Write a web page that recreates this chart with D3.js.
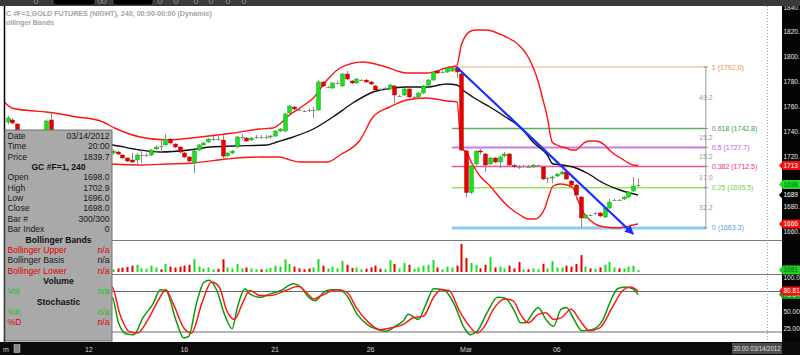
<!DOCTYPE html>
<html><head><meta charset="utf-8">
<script src="https://cdn.jsdelivr.net/npm/d3@7"></script>
<style>body{margin:0;background:#fff}svg{display:block}text{font-family:Arial,"Liberation Sans",sans-serif}</style>
</head><body><svg id="c" width="800" height="355"></svg>
<script>
// ---------------- DATA ----------------
const opens=[1748,1749.6,1746.4,1737.6,1735,1732,1734.5,1733,1735,1749.6,1738,1732,1730,1731.5,1730,1728,1729.5,1728,1726,1727.5,1726,1724,
1723.2,1724.0,1721.6,1719.2,1717.6,1717.6,1721.6,1721.6,1721.6,1726.4,1728.8,1729.6,1734.4,1730.4,1728.0,1723.2,1720.0,1715.2,1725.6,1729.6,1732.0,1734.4,1734.6,1733.6,1720.8,1723.2,1728.0,1736.0,1735.2,1733.6,1736,1736.2,1736,1736,1736.8,1740.8,1740.8,1755.2,1760.0,1757.6,1756.8,1757.6,1757.6,1757.6,1780,1776,1775.2,1779.2,1776.8,1786.4,1780.8,1779.2,1781.6,1781.6,1780,1776.8,1774.4,1775,1774.4,1776.8,1768.8,1769.6,1774.4,1768,1768.0,1771.2,1777.6,1781.6,1788.8,1788,1788.0,1788.8,1791.2,1786.4,1724.8,1691.6,1714.4,1724.8,1722.4,1714.4,1719.2,1716.0,1720.8,1722.4,1713.2,1712.4,1712.2,1712.4,1712.0,1713,1712.0,1703.2,1703.2,1704.8,1706.4,1708.0,1700.8,1697.6,1688.0,1671.2,1673.6,1675,1675.2,1672.0,1679.2,1685.6,1685.6,1686.4,1688.0,1692.8,1698.0];
const highs=[1752.8,1751,1747.2,1740,1737,1736,1738,1736,1750,1755.2,1740,1735,1733,1734,1732,1731,1732,1730,1729,1730,1728,1726,
1726,1725,1722.4,1719.6,1723.2,1723.2,1725.6,1723,1726.4,1729,1733.6,1738.4,1735,1731,1728.8,1724,1720.8,1725.6,1730.4,1732,1735.2,1736.8,1736.8,1737.6,1724,1725.6,1736.8,1738.4,1736,1736,1737.6,1737.6,1737.6,1737.6,1741.6,1743.2,1755.2,1761.6,1760.8,1758.4,1757.6,1759,1760,1781.6,1780.8,1777,1780,1781,1787.2,1788.8,1781.6,1783.2,1782.4,1782,1780.8,1777.6,1775.2,1776,1778.4,1777.6,1769.6,1775.2,1775.2,1769,1772,1777.6,1782.4,1788.8,1789.6,1789,1791.6,1792.0,1792.0,1787.2,1725.6,1713.6,1725.6,1726.4,1723.2,1720,1720,1721,1724,1723.2,1714.4,1713.6,1713.6,1713.6,1714.4,1714,1712.8,1704,1705,1707.2,1709,1708.8,1701.6,1698.4,1688.8,1674.4,1674.4,1676,1676,1680,1686.4,1687,1686.4,1688.8,1692.8,1704.0,1702.9];
const lows=[1746,1746.4,1736,1733,1730,1730,1732,1729,1734,1736,1730,1728,1727,1729,1726,1725,1727,1724,1723,1725,1722,1721,
1722,1721.6,1718.4,1716,1715.2,1713.6,1715.2,1720,1720.8,1725.6,1724,1729,1730,1727,1723,1719,1716,1707.2,1724.8,1729,1731.2,1732.8,1733,1719.2,1720,1722.4,1727.2,1733.6,1732,1732.8,1734.4,1734.4,1734.4,1734.4,1736,1740,1740,1754.4,1757.6,1756.8,1756,1756,1751.2,1756.8,1776,1775,1774.4,1778,1776,1781.6,1778.4,1778.4,1780.8,1779.6,1777.6,1772.8,1773,1774,1773.6,1763.2,1768,1768.8,1767.2,1767,1767.2,1770.4,1776.8,1780.8,1786.4,1787,1787.2,1788,1783.2,1724.8,1688,1690.4,1713.6,1722,1708,1713.6,1715.2,1711,1720,1712.8,1711.2,1710.4,1711,1711,1711.2,1712,1701.6,1699.2,1699,1704,1705.6,1701.6,1696.8,1686,1663.3,1670.4,1672.8,1674,1672,1671.2,1678.4,1684.8,1684.8,1685.6,1687.2,1692,1696.0];
const closes=[1751.2,1747.2,1737.6,1735,1732,1734.5,1733,1735,1748.8,1738,1732,1730,1731.5,1730,1728,1729.5,1728,1726,1727.5,1726,1724,1723.2,
1724.8,1722.4,1719.2,1716.8,1716.0,1721.6,1721.8,1721.8,1725.6,1728.0,1728.6,1734.4,1731.2,1728.0,1724.0,1720.0,1716.8,1724.8,1729.6,1731.2,1734.4,1734.6,1734.4,1720.8,1723.2,1724.8,1736.0,1736.2,1732.8,1735.2,1736.2,1736,1736.2,1736.8,1740.8,1742.4,1754.4,1760.8,1758.4,1757.4,1756.6,1757.4,1757.8,1780.0,1776.8,1776.2,1779.2,1779.4,1786.4,1782.4,1779.2,1782.4,1781.8,1780.0,1778.4,1773.6,1774.2,1775.2,1777.6,1769.6,1768.8,1774.4,1768.0,1768.2,1771.2,1776.8,1781.6,1788.0,1787.2,1788.2,1791.2,1791.2,1788.0,1725.6,1691.6,1712.8,1724.8,1724.0,1713.6,1719.2,1716.0,1720.0,1722.4,1713.6,1712.8,1712.2,1712.4,1712.2,1713.6,1713.2,1702.4,1703.4,1704.0,1706.4,1708.0,1702.4,1697.6,1689.6,1671.2,1673.6,1673.4,1675.2,1672.8,1679.2,1684.0,1685.8,1685.4,1688.0,1692.0,1696.8,1698.0];
const volumes=[2500,2200,3000,2400,2000,2600,2300,2100,4200,3800,2600,2400,2000,2300,2100,2500,2200,2000,2400,2100,2300,2000,
1500,2000,2400,2800,3500,4000,2000,1800,3500,2500,1500,4500,3000,2500,3000,3500,4000,7200,3000,2000,2500,1500,1800,7000,2500,2000,4500,2000,2500,2000,1500,1500,1600,2200,3500,3000,7000,4500,3000,2000,1500,2000,2500,7200,3500,2000,3000,2000,6000,4000,2200,2500,1500,1800,2500,3500,1800,1500,6500,4500,2000,5000,4000,1800,2500,3500,4000,6600,2500,1500,3000,2500,3500,15500,7700,5000,4000,2000,4000,8200,2500,3000,2000,3500,2000,5500,1500,1500,2000,1500,4500,2000,6000,2500,2500,3500,3000,4500,9300,3000,2000,1800,2500,4000,5500,2500,2000,2000,3000,3500,1081];
// Bollinger bands as [bar index, price]
const bbUpper=[[-1,1765],[1,1759],[5,1757],[8,1756],[11,1754.4],[14.5,1752],[19.3,1749],[22.5,1743],[27.7,1736],[33.4,1733.6],[40.3,1736],[47.2,1739.2],[52.8,1742.4],[55.6,1743.2],[57,1746.4],[58.5,1752],[61.2,1759.2],[64,1767.2],[66.9,1781.6],[69.6,1791.2],[74.4,1796],[78.6,1792.8],[83.6,1787.2],[87.8,1787.2],[92.6,1792],[94,1792.8],[95,1809.6],[96,1817.6],[97,1820.8],[98,1821.6],[100,1821.6],[101,1821.2],[102,1820],[103,1818.4],[104,1816.8],[105,1814.8],[106,1812.8],[107,1809.6],[108,1805.6],[109,1800],[110,1792],[111,1781.6],[112,1767.2],[113,1752],[114,1732],[115,1729.6],[116,1728],[117,1727.2],[118,1725.6],[119,1725.6],[120,1728.8],[121,1732],[122,1732.8],[123,1732.8],[124,1732],[125,1729.6],[126,1725.6],[127,1722.4],[128,1720],[129,1717.6],[130,1715.2],[131,1713.6],[132,1713.2]];
const bbBasis=[[-1,1736],[10,1733],[22,1729.6],[27.7,1725.6],[31.9,1724],[38,1725.6],[42.4,1728],[47.2,1728.8],[54.3,1729.6],[56.4,1732],[59.8,1736],[64,1742.4],[68.1,1752],[72.3,1763.2],[76.5,1772],[80.7,1775.2],[83.6,1776],[87.8,1776],[92,1778.4],[94.1,1777.6],[95.3,1773.6],[97.4,1768],[101,1760],[104.6,1751.2],[107.3,1744],[110,1732],[113,1721.6],[114.2,1714.4],[116.1,1713.6],[118.4,1712],[121.3,1707.2],[124.7,1699.2],[128.2,1693.6],[130.3,1691.2],[132,1689.6]];
const bbLower=[[-1,1715.2],[19.3,1715.2],[21.8,1714.4],[27.7,1713.6],[33.4,1714.4],[38.8,1715.2],[45.9,1718.4],[52.8,1720],[57,1720],[58.5,1718.4],[61.2,1716],[66.9,1716],[69.6,1721.6],[73.8,1733.6],[76.5,1752],[80,1760],[83.6,1765.6],[87.8,1767.2],[92,1764.8],[94.1,1764],[95,1727.2],[96,1724],[97.4,1713.6],[98.9,1704.8],[101,1696.8],[103.1,1687.2],[105.2,1679.2],[107.3,1673.6],[109,1670.4],[110.4,1670.4],[111.5,1672.8],[112.5,1679.2],[113.4,1689.6],[114.2,1696.8],[115.7,1698.4],[117.1,1697.6],[118.4,1695.2],[119.4,1685.6],[120.5,1676],[121.9,1669.6],[123.4,1665.6],[125.1,1664],[127.6,1663.2],[129.3,1664],[131,1665.6],[132,1666.4]];
// Stochastic %K and %D, read as [bar index, value]
const stochK=[[20,75],[21.9,71.4],[23.2,33.6],[24.9,17],[26.4,16],[28.3,41],[30.4,61.3],[32,82.5],[33.1,81.5],[35.3,36.1],[36.9,11],[37.9,13.4],[39.5,61.3],[41.1,94],[42.2,96.6],[43.8,81.5],[45.4,46.2],[47,25],[48.1,56.3],[49.7,84],[50.7,76.5],[52.9,71.4],[55,76.5],[57.2,81.5],[59.8,91.6],[61.4,86.6],[63,71.4],[64.4,66.4],[66.2,79],[67.8,82.5],[69.4,82.5],[71,74],[73.2,46.2],[75.3,31],[77.5,23.5],[79.1,21],[80.1,23.5],[81.2,28.6],[82.8,36.1],[83.9,46.2],[86,38.7],[87.6,61.3],[89.2,84],[91.3,82.5],[93.5,61.3],[95.6,26],[96.9,16],[98.3,21],[100.4,48.7],[102.6,71.4],[104.2,70],[106.3,48.7],[107.4,33.6],[108.4,33.6],[110,48.7],[111.1,56.3],[112.7,38.7],[114.3,28.6],[115.9,53.8],[117,56.3],[118.6,38.7],[120.2,22],[122.3,23.5],[124.5,36.1],[126.6,71.4],[127.7,84],[129.3,86.6],[130.9,84],[132,75.64]];
const stochD=[[20,92],[21.9,86.6],[23.5,46.2],[25.6,20],[27.2,18.5],[29.4,38.7],[31.5,66.4],[33.1,82.5],[34.7,61.3],[36.9,26],[38.5,18.5],[40.6,61.3],[42.7,94],[44.3,86.6],[45.9,51.3],[47.5,38.7],[49.1,61.3],[50.7,81.5],[52.9,74],[55,74],[58.2,81.5],[60.9,87.6],[62.5,79],[64.1,68.9],[65.7,74],[68.9,82.5],[71,79],[73.2,53.8],[75.3,36.1],[78,23.5],[80.1,26],[82.8,31],[84.9,41],[87.1,43.7],[89.2,71.4],[90.8,82.5],[92.4,81.5],[94.6,51.3],[96.7,28.6],[98.3,18.5],[99.9,28.6],[101.5,51.3],[104.2,68.9],[105.8,66.4],[107.4,46.2],[109,33.6],[111.1,46.2],[112.7,48.7],[114.3,38.7],[115.9,41],[118,53.8],[119.7,38.7],[121.8,22],[124,26],[126.6,56.3],[128.8,81.5],[130.4,86.6],[132,80.81]];
const xTickIdx=[17,37,56,76,96,115];
const xTickLabels=["12","16","21","26","Mar","06"];
const priceTicks=[1840,1820,1800,1780,1760,1740,1720,1680,1660];
const priceTickLabels=["1840.","1820.","1800.","1780.","1760.","1740.","1720.","1680.","1660."];
const stochTicks=[100,50,25];
const stochTickLabels=["100.0","50.00","25.00"];
const fibRatios=["1","0.618","0.5","0.382","0.25","0"];
const fibPrices=[1792.0,1742.8,1727.7,1712.5,1695.5,1663.3];
const fibDiffs=["49.2","15.2","15.2","17.0","32.2"];
const fibSpan=[93,146.2];
const trendLine=[[94,1792.0],[131,1658.4]];
const badgeValues={upper:1713.2,close:1698.0,basis:1689.6,lower:1666.4,vol:1081,d:80.81,k:75.64};
const badgeLabels={upper:"1713",close:"1698",basis:"1689",lower:"1666",vol:"1081",d:"80.81",k:"75.64"};
const infoRows=[["Date","03/14/2012"],["Time","20:00"],["Price","1839.7"],["#GC #F=1, 240"],["Open","1698.0"],["High","1702.9"],["Low","1696.0"],["Close","1698.0"],["Bar #","300/300"],["Bar Index","0"],["#Bollinger Bands"],["Bollinger Upper","n/a","r"],["Bollinger Basis","n/a","k"],["Bollinger Lower","n/a","r"],["#Volume"],["Vol","n/a","g"],["#Stochastic"],["%K","n/a","g"],["%D","n/a","r"]];

// ---------------- LAYOUT ----------------
const svg=d3.select("#c");
const L=5,R=782,T=6,MB=240,VB=274,SB=342;
const x=d3.scaleLinear().domain([0,132]).range([7.7,638.0]);
const yP=d3.scaleLinear().domain([1660,1840]).range([232,7]);
const yV=d3.scaleLinear().domain([0,16000]).range([272,243]);
const yS=d3.scaleLinear().domain([20,100]).range([332,278]);
const GREEN="#1edc1e",RED="#e80000";

svg.append("rect").attr("width",800).attr("height",355).attr("fill","#fff");
const defs=svg.append("defs");
function clip(id,y0,y1){defs.append("clipPath").attr("id",id).append("rect").attr("x",L).attr("y",y0).attr("width",R-L).attr("height",y1-y0);}
clip("cm",T,MB);clip("cv",MB,VB);clip("cs",VB,SB);
defs.append("marker").attr("id","arr").attr("viewBox","0 0 10 10").attr("refX",9).attr("refY",5)
 .attr("markerWidth",9).attr("markerHeight",9).attr("markerUnits","userSpaceOnUse").attr("orient","auto")
 .append("path").attr("d","M0,0L10,5L0,10z").attr("fill","#1530ff");

// ---- Fibonacci
const fibLine=["#f8a27c","#58b058","#cc78f0","#f2528c","#92ea62","#8ccaf2"];
const fibText=["#f08850","#3f9a3f","#b458e6","#e8346c","#6cd23c","#4f9fe6"];
const fibW=[1.2,1.5,2,1.5,1.5,3];
const gf=svg.append("g");
fibPrices.forEach((p,i)=>{
  gf.append("line").attr("x1",x(fibSpan[0])).attr("x2",x(fibSpan[1])).attr("y1",yP(p)).attr("y2",yP(p))
    .attr("stroke",fibLine[i]).attr("stroke-width",fibW[i]);
  gf.append("text").attr("x",x(fibSpan[1])+6).attr("y",yP(p)+2.5).attr("font-size",7).attr("fill",fibText[i])
    .text(`${fibRatios[i]} (${p.toFixed(1)})`);
  gf.append("line").attr("x1",x(fibSpan[1])-2).attr("x2",x(fibSpan[1])+2).attr("y1",yP(p)).attr("y2",yP(p)).attr("stroke","#888");
});
gf.append("line").attr("x1",x(fibSpan[1])).attr("x2",x(fibSpan[1])).attr("y1",yP(fibPrices[0])).attr("y2",yP(fibPrices[5]))
  .attr("stroke","#9a9a9a").attr("stroke-width",1);
fibDiffs.forEach((t,i)=>{
  gf.append("text").attr("x",x(fibSpan[1])).attr("y",(yP(fibPrices[i])+yP(fibPrices[i+1]))/2+2.5)
   .attr("text-anchor","middle").attr("font-size",7).attr("fill","#9a9a9a").text(t);
});

// ---- Bollinger bands
const gm=svg.append("g").attr("clip-path","url(#cm)");
const bl=d3.line().x(d=>x(d[0])).y(d=>yP(d[1])).curve(d3.curveMonotoneX);
gm.append("path").attr("d",bl(bbUpper)).attr("fill","none").attr("stroke","#ff1414").attr("stroke-width",1.4);
gm.append("path").attr("d",bl(bbLower)).attr("fill","none").attr("stroke","#ff1414").attr("stroke-width",1.4);
gm.append("path").attr("d",bl(bbBasis)).attr("fill","none").attr("stroke","#111").attr("stroke-width",1.4);

// ---- Candles
const idx=d3.range(closes.length);
idx.forEach(i=>{
  const cx=Math.round(x(i));
  const o=opens[i],c=closes[i];
  const doji=Math.abs(c-o)<0.3;
  gm.append("line").attr("x1",cx+0.5).attr("x2",cx+0.5).attr("y1",yP(highs[i])).attr("y2",yP(lows[i]))
    .attr("stroke","#8c8c8c").attr("stroke-width",1);
  if(doji){
    gm.append("rect").attr("x",cx-1.5).attr("y",Math.round(yP(c))).attr("width",4).attr("height",1).attr("fill","#8c8c8c");
  } else {
    const top=yP(Math.max(o,c)),bot=yP(Math.min(o,c));
    gm.append("rect").attr("x",cx-1.5).attr("y",top).attr("width",4).attr("height",Math.max(1,bot-top))
      .attr("fill",c>o?GREEN:RED).attr("stroke",c>o?"#10a010":"#b00000").attr("stroke-width",0.4);
  }
});

// ---- Trend line
gm.append("line").attr("x1",x(trendLine[0][0])).attr("y1",yP(trendLine[0][1])).attr("x2",x(trendLine[1][0])).attr("y2",yP(trendLine[1][1]))
  .attr("stroke","#1530ff").attr("stroke-width",2.2).attr("marker-end","url(#arr)");

// ---- Volume
const gv=svg.append("g").attr("clip-path","url(#cv)");
idx.forEach(i=>{
  const cx=Math.round(x(i));
  gv.append("rect").attr("x",cx-0.5).attr("y",yV(volumes[i])).attr("width",2).attr("height",yV(0)-yV(volumes[i]))
    .attr("fill",closes[i]>=opens[i]?GREEN:RED);
});

// ---- separators and stochastic reference lines
[[MB+0.5,"#7a7a7a"],[VB+0.5,"#7a7a7a"],[yS(80),"#6a6a6a"],[yS(20),"#6a6a6a"]].forEach(([y,c])=>{
  svg.append("line").attr("x1",L).attr("x2",R).attr("y1",y).attr("y2",y).attr("stroke",c).attr("stroke-width",1.2);
});

// ---- Stochastic
const gs=svg.append("g").attr("clip-path","url(#cs)");
const sl=d3.line().x(d=>x(d[0])).y(d=>yS(d[1])).curve(d3.curveMonotoneX);
gs.append("path").attr("d",sl(stochK)).attr("fill","none").attr("stroke","#0a9a0a").attr("stroke-width",1.5);
gs.append("path").attr("d",sl(stochD)).attr("fill","none").attr("stroke","#ff1a1a").attr("stroke-width",1.5);

// ---- dotted right line
svg.append("line").attr("x1",767.5).attr("x2",767.5).attr("y1",T).attr("y2",SB).attr("stroke","#9a9a9a").attr("stroke-dasharray","1,2");

// ---- right axis
svg.append("rect").attr("x",R).attr("y",0).attr("width",800-R).attr("height",355).attr("fill","#050505");
priceTicks.forEach((v,i)=>{
  svg.append("text").attr("x",783.5).attr("y",Math.max(yP(v)+2.3,9.5)).attr("font-size",6.5).attr("fill","#e6e6e6").text(priceTickLabels[i]);
});
stochTicks.forEach((v,i)=>{
  svg.append("text").attr("x",783.5).attr("y",yS(v)+2.3).attr("font-size",6.5).attr("fill","#e6e6e6").text(stochTickLabels[i]);
});
function badge(y,fill,tc,label){
  svg.append("path").attr("d",`M779,${y}L783,${y-4.5}L800,${y-4.5}L800,${y+4.5}L783,${y+4.5}Z`).attr("fill",fill);
  svg.append("text").attr("x",783.5).attr("y",y+2.3).attr("font-size",6.5).attr("fill",tc).text(label);
}
badge(yP(badgeValues.upper),"#f01010","#fff",badgeLabels.upper);
badge(yP(badgeValues.basis),"#000","#fff",badgeLabels.basis);
badge(yP(badgeValues.close),"#22dd22","#063",badgeLabels.close);
badge(yP(badgeValues.lower),"#f01010","#fff",badgeLabels.lower);
badge(yV(badgeValues.vol),"#22cc22","#063",badgeLabels.vol);
badge(yS(badgeValues.k),"#12a012","#cfc",badgeLabels.k);
badge(yS(badgeValues.d),"#f01010","#fff",badgeLabels.d);

// ---- bottom axis
svg.append("rect").attr("x",0).attr("y",SB).attr("width",800).attr("height",355-SB).attr("fill","#0b0b0b");
xTickIdx.forEach((t,i)=>{
  svg.append("text").attr("x",x(t)).attr("y",351.5).attr("text-anchor","middle").attr("font-size",7).attr("fill","#cfcfcf").text(xTickLabels[i]);
});
svg.append("text").attr("x",3).attr("y",351.5).attr("font-size",7).attr("fill","#cfcfcf").text("m");
svg.append("rect").attr("x",14).attr("y",344.5).attr("width",6).attr("height",8).attr("fill","#888").attr("stroke","#ccc").attr("stroke-width",0.5);
svg.append("rect").attr("x",732).attr("y",343).attr("width",50).attr("height",11).attr("fill","#4d4d4d");
svg.append("text").attr("x",757).attr("y",351).attr("text-anchor","middle").attr("font-size",6.5).attr("fill","#e0e0e0")
  .attr("textLength",47).attr("lengthAdjust","spacingAndGlyphs").text("20:00 03/14/2012");

// ---- left border
svg.append("line").attr("x1",4.5).attr("x2",4.5).attr("y1",T).attr("y2",SB).attr("stroke","#000").attr("stroke-width",1.5);

// ---- top toolbar + title
svg.append("rect").attr("x",0).attr("y",0).attr("width",800).attr("height",T).attr("fill","#3a3a3a");
[[53,42],[113,40]].forEach(([a,w])=>svg.append("rect").attr("x",a).attr("y",-3).attr("width",w).attr("height",8).attr("rx",2).attr("fill","#000").attr("stroke","#666").attr("stroke-width",0.6));
[36,100,104,160,176,196,211,228,244].forEach(a=>svg.append("circle").attr("cx",a).attr("cy",1.5).attr("r",2).attr("fill","none").attr("stroke","#999").attr("stroke-width",0.8));
svg.append("text").attr("x",6).attr("y",16).attr("font-size",7).attr("font-weight","bold").attr("fill","#a3a3a3")
  .attr("textLength",206).attr("lengthAdjust","spacingAndGlyphs").text("C #F=1,GOLD FUTURES (NIGHT), 240, 00:00-00:00 (Dynamic)");
svg.append("text").attr("x",6).attr("y",24.8).attr("font-size",7).attr("font-weight","bold").attr("fill","#a3a3a3")
  .attr("textLength",48).attr("lengthAdjust","spacingAndGlyphs").text("ollinger Bands");

// ---- data window
const gp=svg.append("g");
gp.append("rect").attr("x",5).attr("y",130).attr("width",107).attr("height",211).attr("fill","#a9a9a9").attr("stroke","#707070").attr("stroke-width",1);
const colr={r:"#e00000",k:"#1a1a1a",g:"#1fc01f"};
infoRows.forEach((r,i)=>{
  const y=139+i*10.35;
  if(r[0][0]==="#"){
    gp.append("text").attr("x",58.5).attr("y",y).attr("text-anchor","middle").attr("font-size",8.6).attr("font-weight","bold").attr("fill","#111").text(r[0].slice(1));
  } else {
    const c=colr[r[2]||"k"];
    gp.append("text").attr("x",7.5).attr("y",y).attr("font-size",8.6).attr("fill",c).text(r[0]);
    gp.append("text").attr("x",109.5).attr("y",y).attr("text-anchor","end").attr("font-size",8.6).attr("fill",c).text(r[1]);
  }
});
</script></body></html>
